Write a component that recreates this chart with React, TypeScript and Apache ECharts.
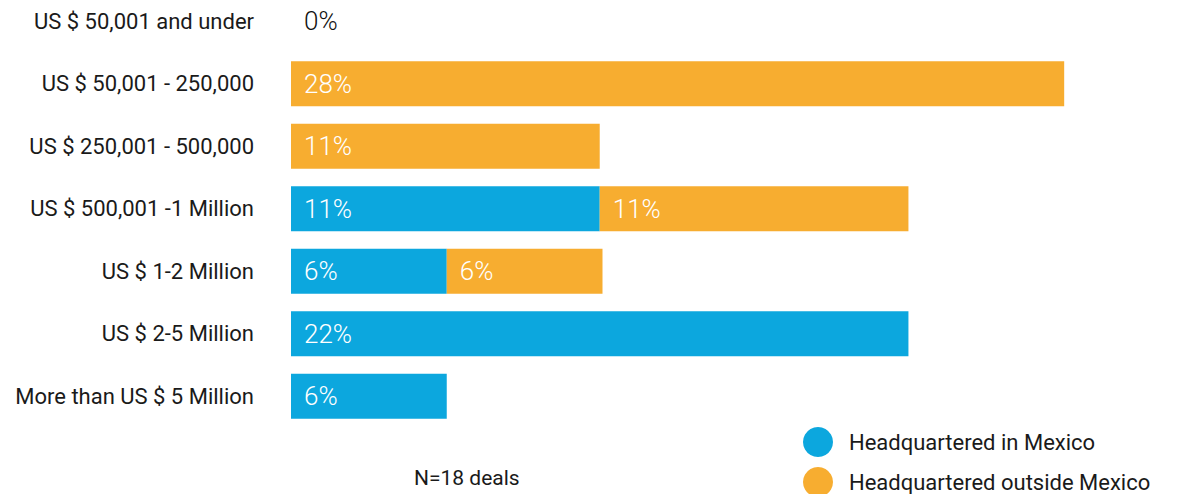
import React, { useEffect, useRef } from "react";
import * as echarts from "echarts";

const categories = [
  "US $ 50,001 and under",
  "US $ 50,001 - 250,000",
  "US $ 250,001 - 500,000",
  "US $ 500,001 -1 Million",
  "US $ 1-2 Million",
  "US $ 2-5 Million",
  "More than US $ 5 Million",
];
const inMexico = [0, 0, 0, 11.1, 5.6, 22.2, 5.6];
const outsideMexico = [0, 27.8, 11.1, 11.1, 5.6, 0, 0];
const seriesNames = ["Headquartered in Mexico", "Headquartered outside Mexico"];
const colors = ["#0ca7de", "#f7ad30"];
const note = "N=18 deals";

const FONT = "Roboto, 'Noto Sans', sans-serif";
const SHIFT = 10;

export default function App() {
  const ref = useRef<HTMLDivElement>(null);
  useEffect(() => {
    if (!ref.current) return;
    const chart = echarts.init(ref.current, undefined, { renderer: "svg" });
    const labelBase = {
      show: true,
      position: "insideLeft",
      distance: 13,
      color: "#ffffff",
      fontSize: 26,
      fontWeight: 300,
      fontFamily: FONT,
      formatter: (p: any) => `${Math.round(p.value)}%`,
    };
    const mk = (vals: number[], isOutside: boolean) =>
      vals.map((v, i) => {
        if (v > 0) return { value: v };
        if (isOutside && i === 0 && inMexico[0] === 0)
          return { value: v, label: { show: true, color: "#111111" } };
        return { value: v, label: { show: false } };
      });
    chart.setOption({
      animation: false,
      textStyle: { fontFamily: FONT },
      grid: { left: 291, right: 2, top: 0, height: 437.5, containLabel: false },
      xAxis: {
        type: "value",
        min: 0,
        max: 32,
        show: false,
      },
      yAxis: {
        type: "category",
        data: categories,
        inverse: true,
        axisLine: { show: false },
        axisTick: { show: false },
        axisLabel: {
          color: "#1a1a1a",
          fontSize: 22,
          fontFamily: FONT,
          margin: 37,
        },
      },
      legend: {
        orient: "vertical",
        left: 803,
        top: 427 + SHIFT,
        height: 100,
        padding: 0,
        itemWidth: 30,
        itemHeight: 30,
        itemGap: 10,
        icon: "circle",
        textStyle: { fontSize: 22, color: "#1a1a1a", fontFamily: FONT, padding: [0, 0, 0, 11] },
        data: seriesNames,
      },
      graphic: [
        {
          type: "text",
          left: 414,
          top: 467 + SHIFT,
          style: { text: note, fontSize: 21, fill: "#1a1a1a", fontFamily: FONT },
        },
      ],
      series: [
        {
          name: seriesNames[0],
          type: "bar",
          stack: "total",
          barWidth: 45,
          itemStyle: { color: colors[0] },
          label: labelBase,
          data: mk(inMexico, false),
        },
        {
          name: seriesNames[1],
          type: "bar",
          stack: "total",
          barWidth: 45,
          itemStyle: { color: colors[1] },
          label: labelBase,
          data: mk(outsideMexico, true),
        },
      ],
    });
    return () => chart.dispose();
  }, []);
  return (
    <div style={{ position: "absolute", left: 0, top: 0, width: 1183, height: 494, overflow: "hidden", background: "#fff" }}>
      <div
        ref={ref}
        style={{ position: "absolute", left: 0, top: -SHIFT, width: 1183, height: 494 + SHIFT }}
      />
    </div>
  );
}
